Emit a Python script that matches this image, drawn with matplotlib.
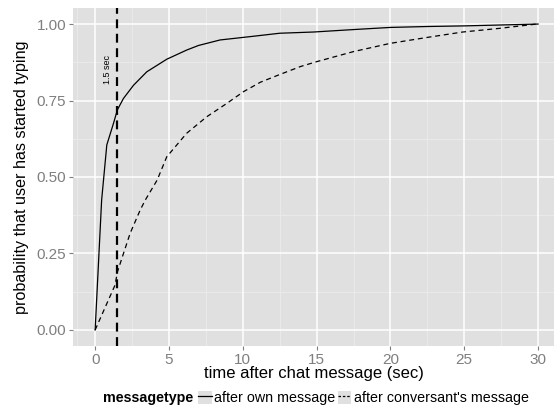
#!/usr/bin/env python3
import matplotlib
matplotlib.use('Agg')
import matplotlib.pyplot as plt
from matplotlib.lines import Line2D
from matplotlib.patches import Patch
from matplotlib.legend_handler import HandlerTuple

# cumulative share of users who started typing
own_t = [0, 0.44, 0.79, 1.24, 1.51, 1.92, 2.6, 3.5, 4.85, 6.2, 7.0, 8.46,
         10.7, 12.5, 14.8, 17.5, 20.0, 22.5, 25.0, 27.5, 30.0]
own_p = [0, 0.425, 0.605, 0.675, 0.72, 0.757, 0.80, 0.844, 0.885, 0.915, 0.93,
         0.948, 0.96, 0.97, 0.974, 0.982, 0.989, 0.992, 0.994, 0.997, 1.0]

conv_t = [0, 1.35, 1.51, 2.37, 3.05, 3.4, 4.2, 4.85, 6.2, 7.56, 8.9, 10.05,
          11.2, 12.5, 13.9, 15.0, 17.5, 20.0, 22.45, 24.9, 27.4, 29.9]
conv_p = [0, 0.147, 0.19, 0.316, 0.392, 0.425, 0.49, 0.566, 0.643, 0.697, 0.74,
          0.779, 0.81, 0.835, 0.861, 0.877, 0.91, 0.937, 0.956, 0.974, 0.986, 1.0]

cutoff = 1.5
x_ticks = [0, 5, 10, 15, 20, 25, 30]
y_ticks = [0.0, 0.25, 0.5, 0.75, 1.0]

plt.rcParams['font.family'] = ['Liberation Sans', 'DejaVu Sans']

fig = plt.figure(figsize=(5.54, 4.07), dpi=100)
ax = fig.add_axes([73 / 554, 61 / 407, 1 - 73 / 554, 338 / 407])
ax.set_facecolor('#E0E0E0')

# grid like ggplot's grey theme
for v in [-1.25] + [2.5 + 5 * i for i in range(7)]:
    ax.axvline(v, color='#EBEBEB', lw=0.6, zorder=0)
for v in [0.125, 0.375, 0.625, 0.875]:
    ax.axhline(v, color='#EBEBEB', lw=0.6, zorder=0)
for v in x_ticks:
    ax.axvline(v, color='white', lw=1.1, zorder=0)
for v in y_ticks:
    ax.axhline(v, color='white', lw=1.1, zorder=0)

ax.plot(own_t, own_p, color='black', lw=0.9, zorder=3)
ax.plot(conv_t, conv_p, color='black', lw=0.9, ls=(0, (4, 3)), zorder=3)
ax.axvline(cutoff, color='black', lw=1.6, ls=(0, (4, 2.5)), zorder=4)
ax.text(0.82, 0.85, '1.5 sec', rotation=90, ha='center', va='center', fontsize=6.5)

ax.set_xlim(-1.5, 31.08)
ax.set_ylim(-0.0525, 1.0525)
ax.set_xticks(x_ticks)
ax.set_yticks(y_ticks)
ax.set_yticklabels(['0.00', '0.25', '0.50', '0.75', '1.00'])
ax.tick_params(colors='#7F7F7F', labelsize=11, length=3, width=0.8, pad=2)
for s in ax.spines.values():
    s.set_visible(False)

ax.set_xlabel('time after chat message (sec)', fontsize=12, labelpad=-1)
ax.set_ylabel('probability that user has started typing', fontsize=11.6, labelpad=5)

# legend at bottom, title on the left
ly = 1 - 398 / 407
fig.text(103 / 554, ly, 'messagetype', fontsize=10.3, fontweight='bold', va='center')
key = Patch(facecolor='#E0E0E0', edgecolor='none')
h1 = (key, Line2D([], [], color='black', lw=0.9))
h2 = (key, Line2D([], [], color='black', lw=0.9, ls=(0, (2, 1.5))))
fig.legend([h1, h2], ['after own message', "after conversant's message"],
           handler_map={tuple: HandlerTuple(ndivide=1)},
           loc='center left', bbox_to_anchor=(198 / 554, ly), ncol=2,
           frameon=False, fontsize=10.3, handlelength=0.95, handleheight=1.0,
           handletextpad=0.15, columnspacing=0.2, borderpad=0, borderaxespad=0)

fig.savefig('out.png', dpi=100)
